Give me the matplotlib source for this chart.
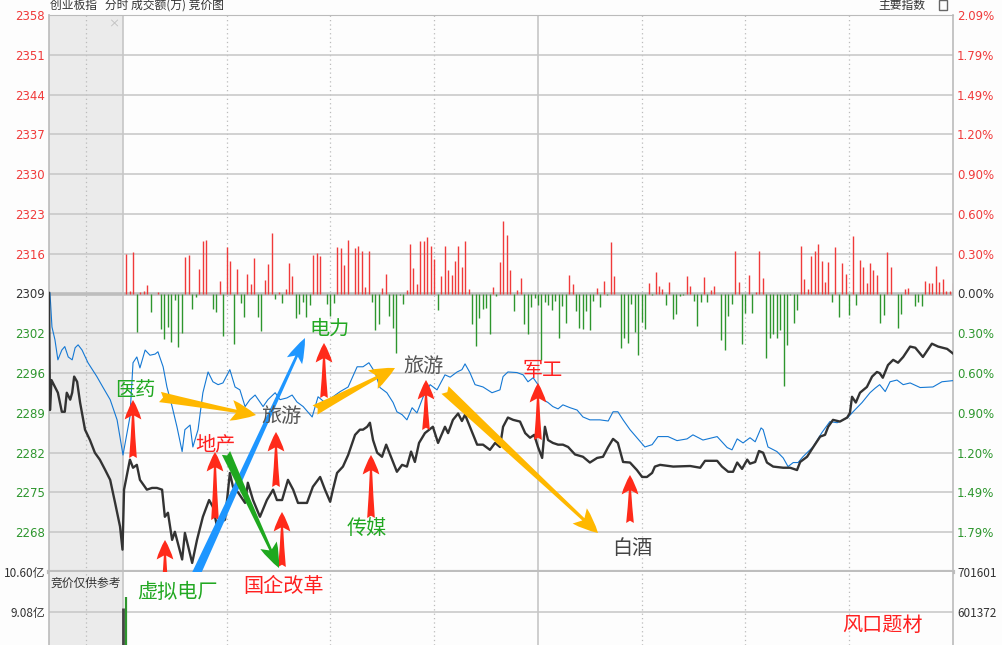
import numpy as np
import matplotlib.pyplot as plt
from matplotlib.patches import Rectangle

plt.rcParams['font.family'] = ['Noto Sans CJK SC', 'DejaVu Sans']

# ---- data ----
BASE = 2309.3          # previous close of the index
STEP = 6.896           # one grid step (0.2986 %)

price_labels = ['2268', '2275', '2282', '2289', '2296', '2302', '2309',
                '2316', '2323', '2330', '2337', '2344', '2351', '2358']
pct_labels = ['1.79%', '1.49%', '1.20%', '0.90%', '0.60%', '0.30%', '0.00%',
              '0.30%', '0.60%', '0.90%', '1.20%', '1.49%', '1.79%', '2.09%']

# call auction 9:15-9:30, minutes from 9:15
auct_min = [0, 0.2, 0.5, 1.2, 1.8, 2.6, 3.2, 3.6, 4.3, 4.7, 5.1, 5.7, 6.3,
            7.3, 8.3, 9.3, 10.3, 11.4, 12.4, 13.4, 14.4, 14.9]
auct_idx = [2309.4, 2289.1, 2294.3, 2293.1, 2292.1, 2288.8, 2288.8, 2292.1,
            2290.9, 2292.1, 2294.9, 2294.0, 2290.4, 2285.7, 2283.9, 2281.7,
            2280.5, 2278.7, 2277.0, 2273.0, 2268.9, 2264.9]
auct_min_ref = [0.2, 0.6, 1.2, 1.8, 2.6, 3.2, 3.9, 4.7, 5.3, 5.9, 6.7, 7.9,
                9.7, 10.9, 12.4, 13.8, 15.0]
auct_ref = [2309.4, 2303.5, 2301.3, 2297.8, 2299.5, 2300.1, 2298.3, 2297.8,
            2299.9, 2300.4, 2299.5, 2297.3, 2294.9, 2293.1, 2290.9, 2287.4,
            2281.3]

# continuous session, minutes from 9:30 (0..240)
idx_min = [0.3, 2.0, 2.9, 4.0, 4.9, 6.9, 8.4, 9.8, 11.3, 12.1, 13.0, 14.2,
           15.0, 17.1, 17.9, 20.0, 21.4, 23.1, 24.9, 26.0, 27.2, 28.1, 29.5,
           30.9, 31.8, 33.3, 35.3, 36.1, 37.6, 39.6, 41.6, 43.4, 44.5, 46.0,
           47.7, 49.2, 50.6, 53.2, 54.9, 57.0, 58.4, 59.9, 60.7, 61.9, 63.6,
           65.1, 67.1, 68.5, 69.4, 70.6, 71.4, 72.3, 73.5, 74.9, 76.1, 77.8,
           79.2, 80.7, 82.1, 83.3, 84.4, 85.6, 87.3, 89.6, 91.1, 93.1, 94.0,
           95.4, 96.9, 98.0, 98.9, 100.3, 102.4, 104.1, 106.1, 107.6, 109.0,
           109.9, 111.3, 112.8, 114.8, 116.3, 117.7, 118.9, 120.0, 121.2,
           122.0, 122.9, 124.3, 125.8, 127.2, 128.7, 130.7, 133.0, 135.0,
           137.1, 138.8, 140.3, 141.7, 143.1, 144.6, 146.6, 148.6, 150.1,
           151.5, 153.0, 153.8, 155.3, 159.1, 164.0, 166.9, 168.3, 171.8,
           173.2, 175.0, 176.4, 177.6, 179.0, 180.5, 181.3, 182.8, 183.9,
           185.1, 186.2, 188.0, 190.9, 192.9, 194.9, 195.8, 197.8, 199.5,
           201.6, 203.0, 203.9, 205.3, 207.3, 209.4, 210.2, 210.8, 211.9,
           213.1, 215.1, 216.6, 218.0, 218.8, 219.7, 221.2, 222.7, 224.1,
           225.6, 227.6, 229.1, 231.3, 233.9, 235.7, 238.3, 240.0]
idx_val = [2275.3, 2280.5, 2279.1, 2279.6, 2277.0, 2275.3, 2275.6, 2275.6,
           2275.3, 2270.6, 2271.3, 2266.6, 2268.0, 2263.2, 2267.8, 2262.6,
           2266.6, 2270.6, 2273.5, 2272.3, 2268.9, 2269.6, 2270.1, 2278.2,
           2275.8, 2274.8, 2273.0, 2276.5, 2273.5, 2270.6, 2273.5, 2275.3,
           2273.5, 2273.5, 2277.0, 2275.3, 2273.0, 2273.0, 2275.8, 2277.5,
           2275.3, 2273.2, 2275.3, 2278.2, 2279.3, 2281.3, 2284.8, 2285.7,
           2285.7, 2286.2, 2286.9, 2283.9, 2281.7, 2281.0, 2283.1, 2280.5,
           2278.4, 2279.6, 2279.3, 2281.9, 2280.1, 2283.4, 2285.1, 2286.2,
           2283.4, 2286.2, 2285.1, 2287.4, 2288.5, 2287.2, 2288.3, 2286.2,
           2283.1, 2283.1, 2282.2, 2283.4, 2282.7, 2286.2, 2287.8, 2287.4,
           2287.1, 2285.1, 2284.3, 2284.8, 2282.7, 2280.8, 2286.2, 2283.9,
           2283.4, 2283.1, 2283.1, 2282.7, 2281.4, 2281.0, 2280.0, 2280.8,
           2281.0, 2282.7, 2284.1, 2283.4, 2280.1, 2280.0, 2278.7, 2277.5,
           2277.5, 2278.2, 2279.3, 2279.6, 2279.3, 2279.4, 2279.1, 2280.3,
           2280.3, 2279.3, 2278.4, 2278.4, 2280.0, 2278.9, 2280.5, 2279.8,
           2280.1, 2282.0, 2281.7, 2280.0, 2279.3, 2279.1, 2279.1, 2278.7,
           2280.1, 2281.0, 2282.6, 2284.5, 2284.8, 2286.2, 2287.4, 2287.1,
           2287.8, 2288.6, 2291.4, 2290.4, 2292.1, 2293.1, 2294.9, 2295.7,
           2295.5, 2294.7, 2296.9, 2297.8, 2297.3, 2298.3, 2300.1, 2299.9,
           2298.3, 2300.6, 2300.1, 2299.7, 2298.9]

ref_min = [1.2, 2.0, 2.9, 4.0, 4.9, 6.4, 7.8, 9.3, 10.1, 11.6, 12.7, 14.2,
           15.6, 17.1, 17.9, 19.4, 20.2, 21.7, 23.1, 24.6, 26.0, 27.5, 28.9,
           30.9, 32.4, 33.8, 35.3, 36.7, 38.2, 39.6, 40.5, 41.9, 44.0, 45.4,
           47.4, 48.9, 50.3, 52.1, 54.7, 56.4, 58.4, 60.7, 62.8, 65.1, 67.7,
           69.4, 71.1, 72.9, 74.3, 76.3, 78.1, 79.2, 80.7, 82.1, 83.6, 85.0,
           86.8, 88.8, 90.8, 93.1, 94.6, 96.6, 98.0, 98.9, 100.3, 101.8, 104.1,
           106.7, 109.0, 109.9, 111.3, 113.9, 115.7, 117.1, 118.6, 120.0,
           121.5, 122.9, 124.3, 125.8, 127.2, 129.3, 131.3, 133.0, 135.0,
           137.9, 140.3, 141.7, 143.1, 144.6, 146.6, 148.6, 150.9, 153.0,
           154.7, 157.6, 160.2, 163.1, 164.8, 167.7, 171.8, 174.7, 176.1,
           177.6, 179.3, 181.3, 182.8, 184.5, 185.1, 186.5, 189.1, 190.9,
           192.3, 193.8, 195.2, 196.6, 199.5, 202.1, 204.4, 206.5, 208.2,
           209.6, 211.1, 213.7, 216.0, 217.5, 218.8, 220.4, 221.8, 223.8,
           225.6, 227.6, 230.5, 234.2, 236.8, 240.0]
ref_val = [2285.2, 2287.9, 2297.3, 2298.3, 2296.4, 2299.5, 2298.6, 2298.8,
           2299.2, 2296.6, 2293.1, 2289.7, 2286.2, 2281.9, 2285.7, 2286.5,
           2282.7, 2285.7, 2292.1, 2295.7, 2294.0, 2293.5, 2293.8, 2296.1,
           2293.1, 2292.6, 2289.7, 2290.9, 2291.7, 2290.5, 2289.7, 2290.9,
           2292.1, 2290.9, 2291.2, 2291.7, 2290.5, 2289.7, 2287.9, 2291.4,
           2290.4, 2291.4, 2292.3, 2293.1, 2296.6, 2296.6, 2297.3, 2295.6,
           2293.0, 2292.1, 2290.4, 2288.8, 2288.3, 2287.4, 2289.5, 2288.6,
           2291.4, 2293.5, 2292.6, 2295.2, 2294.8, 2295.7, 2296.1, 2297.1,
           2295.6, 2293.5, 2293.1, 2292.1, 2292.6, 2294.9, 2295.7, 2295.6,
           2295.2, 2294.0, 2294.7, 2293.5, 2290.9, 2290.4, 2289.7, 2289.3,
           2290.0, 2289.5, 2289.1, 2287.9, 2287.4, 2287.4, 2287.2, 2288.8,
           2288.8, 2287.4, 2285.7, 2284.3, 2282.7, 2283.1, 2284.5, 2284.5,
           2283.8, 2284.1, 2284.8, 2283.9, 2284.5, 2282.6, 2282.2, 2284.1,
           2283.4, 2284.3, 2283.6, 2286.0, 2285.7, 2282.7, 2281.9, 2280.8,
           2279.3, 2280.0, 2280.0, 2281.0, 2282.7, 2285.2, 2287.1, 2286.9,
           2287.4, 2287.8, 2288.8, 2290.4, 2292.1, 2292.9, 2293.5, 2292.3,
           2294.0, 2294.3, 2293.5, 2293.8, 2293.0, 2293.1, 2294.0, 2294.2]

# per-minute auction bars (minutes 1..240), red > 0, green < 0
bar_val = [40, 3, 42, -39, 2, 3, 9, -19, -1, 2,
           -36, -46, -34, -49, -7, -54, -40, 37, 39, -16,
           -4, 25, 53, 54, 0, -16, -19, 13, -43, 47,
           33, -51, 25, -10, -24, 20, 10, 36, -24, -38,
           14, 30, 61, -6, 2, -10, 5, 31, 18, -25,
           -21, -9, -24, -12, 39, 41, 38, -1, -11, -23,
           -10, 47, 46, 29, 54, 0, 46, 48, 43, 7,
           43, -9, -37, -31, 6, 20, -23, -35, -60, -2,
           -11, 4, 50, 26, 10, 53, 53, 57, 48, 35,
           -17, 18, 48, 24, 19, 33, 48, 27, 53, 5,
           -31, -53, -25, -16, -15, -41, 7, -3, 32, 73,
           59, 24, -18, 4, 16, -31, -41, -14, -5, -12,
           -67, -9, -12, -17, -8, -45, -13, -30, 19, 10,
           -18, -35, -36, -18, -37, -8, 6, -14, 13, -2,
           52, 18, 0, -55, -45, -50, -11, -39, -62, -29,
           -36, 11, -2, 22, 8, 5, -12, 12, -26, -21,
           -3, -2, 18, 8, -8, -33, -9, 17, -9, 4,
           8, -1, -47, -57, -23, -11, 43, 12, -51, -20,
           19, -20, 2, 43, 16, -65, -45, -41, -45, -37,
           -93, -52, -2, -30, -17, 48, 15, 5, 38, 43,
           50, 33, 12, 32, -9, 47, -24, 31, 20, -22,
           58, -12, 34, 27, 11, 31, 24, 19, -30, -22,
           42, 27, -1, -35, -21, 5, 6, -1, -13, -9,
           -13, 13, 11, 11, 28, 12, 15, 3, 3, 11]
bar_min = np.arange(1, len(bar_val) + 1)
BAR_SCALE = 0.1733     # index points per bar unit

# turnover panel (亿)
vol_auct_min = [14.9]
vol_auct = [9.23]
vol_main_min = [1]
vol_main = [9.65]

# ---- layout ----
W, H = 1003, 645
fig = plt.figure(figsize=(W / 100, H / 100), dpi=100)
fig.patch.set_facecolor('#FDFDFD')


def P(x, y):
    return (x / W, 1 - y / H)


ax = fig.add_axes([49 / W, 1 - 572 / H, 904 / W, 557 / H])
axv = fig.add_axes([49 / W, 0, 904 / W, 73 / H])

AUCT_W = 240 * 74 / 830


def auct_x(a):
    return np.asarray(a) * AUCT_W / 15 - AUCT_W


RED, GREEN, DARK = '#F03A3A', '#2E962E', '#333333'
GRID = '#C6C6C6'

for a in (ax, axv):
    a.set_facecolor('#FDFDFD')
    a.set_xlim(-AUCT_W, 240)
    a.axvspan(-AUCT_W, 0, color='#EBEBEB', lw=0, zorder=0)
    a.set_xticks([])
    for x in (0, 120):
        a.axvline(x, color=GRID, lw=1.2, zorder=1)
    for x in (-AUCT_W / 2, 30, 60, 90, 150, 180, 210):
        a.axvline(x, color='#BBBBBB', lw=0.9, ls=(0, (1, 2.5)), zorder=1)
    for s in ('left', 'right'):
        a.spines[s].set_color('#BBBBBB')
        a.spines[s].set_linewidth(1.2)

ylo, yhi = BASE - 7 * STEP, BASE + 7 * STEP
ax.set_ylim(ylo, yhi)
ticks = [BASE + k * STEP for k in range(-6, 8)]
for k, t in zip(range(-6, 7), ticks):
    if k == 0:
        ax.axhline(t, color='#BDBDBD', lw=2.6, zorder=1)
    else:
        ax.axhline(t, color=GRID, lw=1.1, zorder=1)
ax.spines['top'].set_color('#BBBBBB')
ax.spines['bottom'].set_color('#BEBEBE')
ax.spines['bottom'].set_linewidth(3)

ax.set_yticks(ticks, price_labels)
ax2 = ax.twinx()
ax2.set_ylim(ylo, yhi)
ax2.set_yticks(ticks, pct_labels)
for a in (ax, ax2):
    a.tick_params(axis='y', length=0, pad=3, labelsize=8.5)
    for k, lab in zip(range(-6, 8), a.get_yticklabels()):
        lab.set_color(RED if k > 0 else (GREEN if k < 0 else DARK))
        lab.set_family('DejaVu Sans')
for s in ax2.spines.values():
    s.set_visible(False)

# bars around the previous-close line
vals = np.array(bar_val)
cols = [RED if v > 0 else GREEN for v in vals]
ax.vlines(bar_min, BASE, BASE + vals * BAR_SCALE, colors=cols, lw=1.0, zorder=2)

# lines
ax.plot(np.concatenate([auct_x(auct_min_ref), ref_min]),
        np.concatenate([auct_ref, ref_val]), color='#1478D4', lw=0.8, zorder=3)
ax.plot(np.concatenate([auct_x(auct_min), idx_min]),
        np.concatenate([auct_idx, idx_val]), color='#333333', lw=1.7, zorder=4)

# turnover panel
vlo, vhi = 7.83, 10.60
axv.set_ylim(vlo, vhi)
axv.axhline(9.08, color=GRID, lw=1.1, zorder=1)
axv.spines['top'].set_visible(False)
axv.spines['bottom'].set_visible(False)
axv.vlines(auct_x(vol_auct_min), vlo, vol_auct, colors='#444444', lw=2.0, zorder=2)
axv.vlines(vol_main_min, vlo, vol_main, colors='#2E962E', lw=1.6, zorder=2)
axv.set_yticks([10.60, 9.08], ['10.60亿', '9.08亿'])
axv2 = axv.twinx()
axv2.set_ylim(vlo, vhi)
axv2.set_yticks([10.60, 9.08], ['701601', '601372'])
for a in (axv, axv2):
    a.tick_params(axis='y', length=0, pad=3, labelsize=8.5, labelcolor=DARK)
for s in axv2.spines.values():
    s.set_visible(False)

# header
fig.text(*P(50, 5), '创业板指   分时 成交额(万) 竞价图', fontsize=8.5, color=DARK, va='center')
fig.text(*P(925, 5), '主要指数', fontsize=8.5, color=DARK, va='center', ha='right')
fig.add_artist(Rectangle(P(939, 10), 8 / W, 10 / H, transform=fig.transFigure,
                         fill=False, ec='#666666', lw=1))
fig.text(*P(114, 24), '×', fontsize=8, color='#BBBBBB', ha='center', va='center')
fig.text(*P(51, 583), '竞价仅供参考', fontsize=8.5, color=DARK, va='center')

# annotations
def arrow(x0, y0, x1, y1, color, hw, hl, tw):
    ax.annotate('', xy=P(x1, y1), xytext=P(x0, y0), xycoords='figure fraction',
                textcoords='figure fraction', annotation_clip=False, zorder=6,
                arrowprops=dict(arrowstyle=f'fancy,head_width={hw},head_length={hl},tail_width={tw}',
                                fc=color, ec='none', mutation_scale=10,
                                shrinkA=0, shrinkB=0))


red_arrows = [(133, 458, 400), (165, 592, 540), (215, 520, 452), (276, 487, 432),
              (282, 567, 512), (324, 398, 343), (371, 518, 455), (426, 430, 380),
              (538, 440, 383), (630, 523, 475)]
for x, y0, y1 in red_arrows:
    arrow(x, y0, x, y1, '#FF2A1A', 1.2, 1.4, 0.55)

YEL = '#FFB800'
arrow(160, 397, 256, 415, YEL, 1.5, 1.8, 0.75)
arrow(315, 410, 395, 368, YEL, 1.5, 1.8, 0.75)
arrow(445, 390, 598, 533, YEL, 1.5, 1.8, 0.75)
arrow(192, 583, 305, 338, '#1E96FF', 1.2, 1.8, 0.65)
arrow(226, 453, 279, 568, '#1FA81F', 1.3, 1.8, 0.65)

labels = [('医药', 135, 390, '#22A822'), ('地产', 215, 445, '#FF2020'),
          ('旅游', 282, 417, '#555555'), ('电力', 330, 329, '#22A822'),
          ('旅游', 424, 366, '#555555'), ('军工', 543, 371, '#FF2020'),
          ('传媒', 367, 528, '#22A822'), ('白酒', 632, 548, '#444444'),
          ('虚拟电厂', 177, 592, '#22A822'), ('国企改革', 284, 586, '#FF2020'),
          ('风口题材', 882, 625, '#FF2020')]
for s, x, y, c in labels:
    fig.text(*P(x, y), s, fontsize=14.5, color=c, ha='center', va='center', zorder=7)

fig.savefig('out.png', dpi=100, facecolor=fig.get_facecolor())
